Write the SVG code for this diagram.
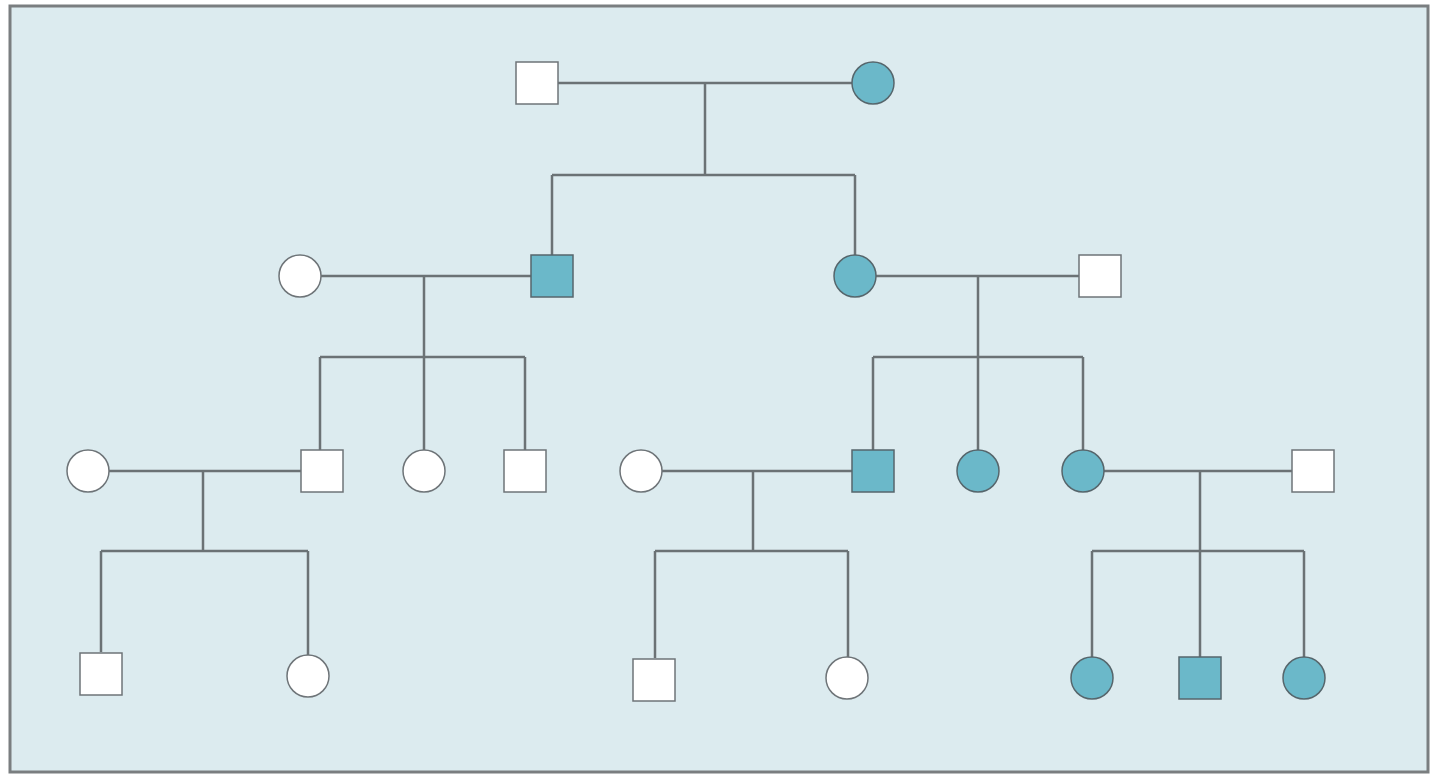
<svg xmlns="http://www.w3.org/2000/svg" width="1440" height="780" viewBox="0 0 1440 780">
<style>
.w{fill:#fff;stroke:#6e7478;stroke-width:1.5}
.f{fill:#6bb8c9;stroke:#56666c;stroke-width:1.5}
.c{stroke:#6b7275;stroke-width:2.5;fill:none}
</style>
<rect x="10" y="6" width="1418" height="766" fill="#dcebef" stroke="#7a7e80" stroke-width="3"/>
<g id="connectors" class="c">
<path d="M558 83H852M705 83V175M552 175H855M552 175V255M855 175V255"/>
<path d="M321 276H531M424 276V357M320 357H525M320 357V450M424 357V450M525 357V450"/>
<path d="M876 276H1079M978 276V357M873 357H1083M873 357V450M978 357V450M1083 357V450"/>
<path d="M109 471H301M203 471V551M101 551H308M101 551V652M308 551V655"/>
<path d="M662 471H852M753 471V551M655 551H848M655 551V658M848 551V657"/>
<path d="M1104 471H1292M1200 471V551M1092 551H1304M1092 551V657M1200 551V657M1304 551V657"/>
</g>
<g id="n1"><rect class="w" x="516" y="62" width="42" height="42"/></g>
<g id="n2"><circle class="f" cx="873" cy="83" r="21"/></g>
<g id="n3"><circle class="w" cx="300" cy="276" r="21"/></g>
<g id="n4"><rect class="f" x="531" y="255" width="42" height="42"/></g>
<g id="n5"><circle class="f" cx="855" cy="276" r="21"/></g>
<g id="n6"><rect class="w" x="1079" y="255" width="42" height="42"/></g>
<g id="n7"><circle class="w" cx="88" cy="471" r="21"/></g>
<g id="n8"><rect class="w" x="301" y="450" width="42" height="42"/></g>
<g id="n9"><circle class="w" cx="424" cy="471" r="21"/></g>
<g id="n10"><rect class="w" x="504" y="450" width="42" height="42"/></g>
<g id="n11"><circle class="w" cx="641" cy="471" r="21"/></g>
<g id="n12"><rect class="f" x="852" y="450" width="42" height="42"/></g>
<g id="n13"><circle class="f" cx="978" cy="471" r="21"/></g>
<g id="n14"><circle class="f" cx="1083" cy="471" r="21"/></g>
<g id="n15"><rect class="w" x="1292" y="450" width="42" height="42"/></g>
<g id="n16"><rect class="w" x="80" y="653" width="42" height="42"/></g>
<g id="n17"><circle class="w" cx="308" cy="676" r="21"/></g>
<g id="n18"><rect class="w" x="633" y="659" width="42" height="42"/></g>
<g id="n19"><circle class="w" cx="847" cy="678" r="21"/></g>
<g id="n20"><circle class="f" cx="1092" cy="678" r="21"/></g>
<g id="n21"><rect class="f" x="1179" y="657" width="42" height="42"/></g>
<g id="n22"><circle class="f" cx="1304" cy="678" r="21"/></g>
</svg>
